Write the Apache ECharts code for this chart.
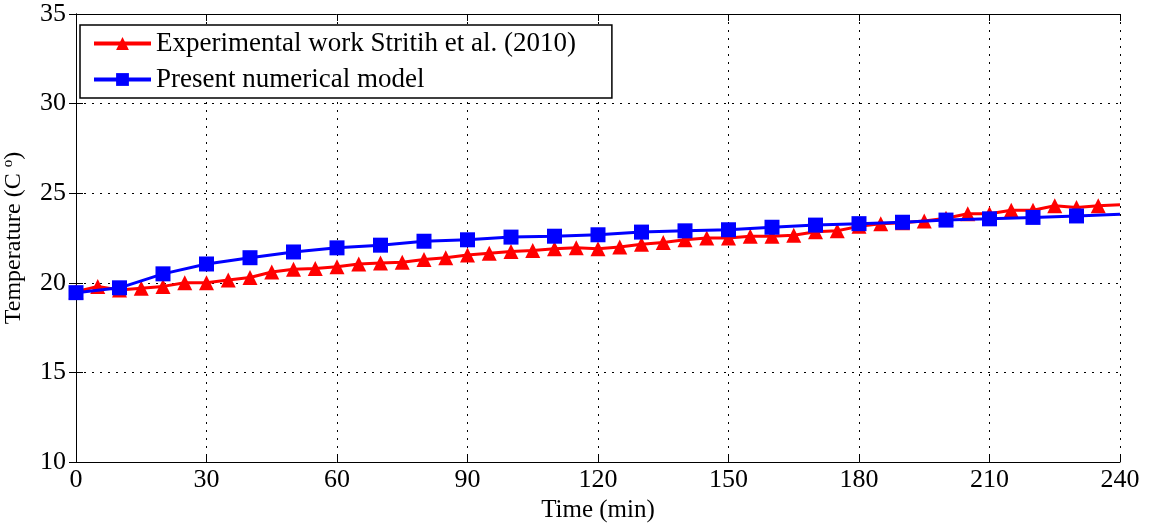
<!DOCTYPE html>
<html>
<head>
<meta charset="utf-8">
<script src="https://cdn.jsdelivr.net/npm/echarts@6/dist/echarts.min.js"></script>
<style>
  html, body { margin: 0; padding: 0; background: #fff; }
  #chart { width: 1153px; height: 524px; }
</style>
</head>
<body>
<div id="chart"></div>
<script>
// Measured temperature (every 5 min) and model prediction (every 10 min)
const expTime = [0,5,10,15,20,25,30,35,40,45,50,55,60,65,70,75,80,85,90,95,100,105,110,115,120,
  125,130,135,140,145,150,155,160,165,170,175,180,185,190,195,200,205,210,215,220,225,230,235,240];
const expTemp = [19.5,19.8,19.6,19.7,19.8,20.0,20.0,20.15,20.3,20.6,20.75,20.8,20.9,21.05,21.1,21.15,21.3,21.4,21.55,21.65,21.75,
  21.8,21.9,21.95,21.9,22.0,22.15,22.25,22.4,22.5,22.5,22.6,22.6,22.65,22.85,22.9,23.15,23.3,23.35,23.45,23.6,
  23.85,23.85,24.05,24.05,24.3,24.2,24.3,24.35];
const modelTime = [0,10,20,30,40,50,60,70,80,90,100,110,120,130,140,150,160,170,180,190,200,210,220,230,240];
const modelTemp = [19.45,19.72,20.5,21.05,21.4,21.72,21.95,22.1,22.32,22.4,22.55,22.6,22.68,22.83,22.9,22.96,
  23.1,23.22,23.3,23.38,23.5,23.57,23.65,23.73,23.82];

const seriesNames = ['Experimental work Stritih et al. (2010)', 'Present numerical model'];
const xTicks = { min: 0, max: 240, interval: 30 };
const yTicks = { min: 10, max: 35, interval: 5 };

const FONT = '"Liberation Serif", "DejaVu Serif", serif';

const chart = echarts.init(document.getElementById('chart'), null, { renderer: 'canvas' });

const baseAxisLine = { show: true, lineStyle: { color: '#000', width: 1 } };
const tickIn = { show: true, inside: true, length: 7, lineStyle: { color: '#000', width: 1 } };
const gridDots = { show: true, lineStyle: { type: [2, 6], color: '#000', width: 1 } };

// the last sample of each series is drawn as a plain line end
const toPoints = (xs, ys, shape) =>
  xs.map((t, i) => ({ value: [t, ys[i]], symbol: t < xTicks.max ? shape : 'none' }));

chart.setOption({
  animation: false,
  backgroundColor: '#fff',
  textStyle: { fontFamily: FONT, color: '#000' },
  grid: { left: 76, right: 33, top: 14, bottom: 62, containLabel: false, outerBoundsMode: 'none' },
  legend: {
    left: 80, top: 25,
    orient: 'vertical',
    backgroundColor: '#fff',
    borderColor: '#000',
    borderWidth: 1.5,
    padding: [5, 36, 5, 12],
    itemGap: 9,
    itemWidth: 57,
    itemHeight: 16,
    itemStyle: { borderWidth: 0 },
    lineStyle: { width: 4 },
    textStyle: { fontFamily: FONT, fontSize: 27, color: '#000' },
    data: seriesNames
  },
  xAxis: [{
    type: 'value', min: xTicks.min, max: xTicks.max, interval: xTicks.interval,
    name: 'Time (min)', nameLocation: 'middle', nameGap: 36,
    nameTextStyle: { fontFamily: FONT, fontSize: 25, color: '#000' },
    axisLine: baseAxisLine, axisTick: tickIn,
    axisLabel: { fontFamily: FONT, fontSize: 26, color: '#000', margin: 5 },
    splitLine: gridDots
  }, {
    type: 'value', position: 'top', min: xTicks.min, max: xTicks.max, interval: xTicks.interval,
    axisLine: baseAxisLine, axisTick: tickIn, axisLabel: { show: false }, splitLine: { show: false }
  }],
  yAxis: [{
    type: 'value', min: yTicks.min, max: yTicks.max, interval: yTicks.interval,
    name: '{a|Temperature (C }{s|o}{a|)}', nameLocation: 'middle', nameGap: 50,
    nameTextStyle: {
      rich: {
        a: { fontFamily: FONT, fontSize: 24, color: '#000' },
        s: { fontFamily: FONT, fontSize: 15, color: '#000', verticalAlign: 'top', padding: [0, 0, 10, 0] }
      }
    },
    axisLine: baseAxisLine, axisTick: tickIn,
    axisLabel: { fontFamily: FONT, fontSize: 26, color: '#000', margin: 10 },
    splitLine: gridDots
  }, {
    type: 'value', position: 'right', min: yTicks.min, max: yTicks.max, interval: yTicks.interval,
    axisLine: baseAxisLine, axisTick: tickIn, axisLabel: { show: false }, splitLine: { show: false }
  }],
  series: [{
    name: seriesNames[0],
    type: 'line',
    data: toPoints(expTime, expTemp, 'triangle'),
    symbol: 'triangle', symbolSize: 15,
    showAllSymbol: true,
    lineStyle: { color: '#ff0000', width: 3 },
    itemStyle: { color: '#ff0000' },
    z: 2
  }, {
    name: seriesNames[1],
    type: 'line',
    data: toPoints(modelTime, modelTemp, 'rect'),
    symbol: 'rect', symbolSize: 15,
    showAllSymbol: true,
    lineStyle: { color: '#0000ff', width: 3 },
    itemStyle: { color: '#0000ff' },
    z: 3
  }]
});
</script>
</body>
</html>
